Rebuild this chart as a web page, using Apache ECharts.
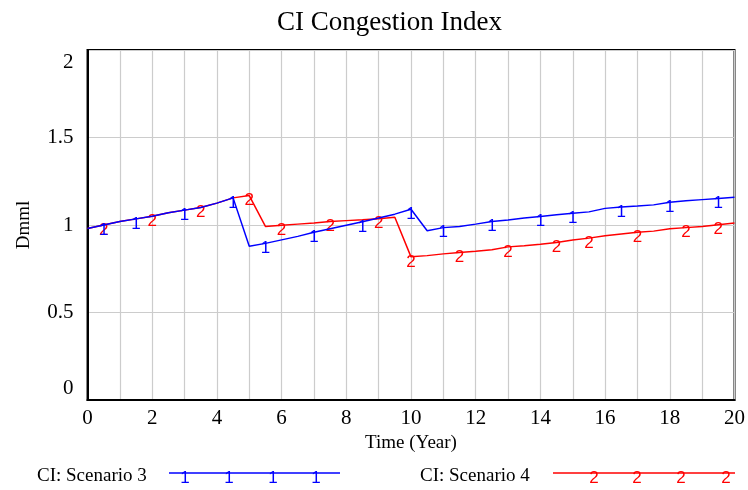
<!DOCTYPE html>
<html>
<head>
<meta charset="utf-8">
<script src="https://cdn.jsdelivr.net/npm/echarts@6/dist/echarts.min.js"></script>
<style>
  html, body { margin: 0; padding: 0; background: #fff; }
  #chart { width: 748px; height: 490px; }
</style>
</head>
<body>
<div id="chart"></div>
<script>
  // time axis, half-year steps
  var years = [0, 0.5, 1, 1.5, 2, 2.5, 3, 3.5, 4, 4.5, 5, 5.5, 6, 6.5, 7, 7.5, 8, 8.5, 9, 9.5, 10,
    10.5, 11, 11.5, 12, 12.5, 13, 13.5, 14, 14.5, 15, 15.5, 16, 16.5, 17, 17.5, 18, 18.5, 19, 19.5, 20];

  // CI: Scenario 3
  var scenario3 = [0.98, 1.0, 1.02, 1.035, 1.05, 1.07, 1.085, 1.10, 1.125, 1.155, 0.878, 0.895, 0.915, 0.935, 0.958, 0.978, 0.998, 1.018, 1.04, 1.062, 1.09,
    0.967, 0.985, 0.992, 1.005, 1.02, 1.028, 1.04, 1.048, 1.058, 1.067, 1.075, 1.095, 1.103, 1.108, 1.115, 1.13, 1.138, 1.145, 1.152, 1.159];

  // CI: Scenario 4
  var scenario4 = [0.98, 1.0, 1.02, 1.035, 1.05, 1.07, 1.085, 1.10, 1.125, 1.155, 1.168, 0.992, 0.998, 1.005, 1.012, 1.02, 1.025, 1.03, 1.036, 1.044, 0.818,
    0.825, 0.835, 0.843, 0.85, 0.858, 0.875, 0.882, 0.89, 0.90, 0.914, 0.925, 0.938, 0.948, 0.958, 0.965, 0.978, 0.985, 0.992, 1.002, 1.011];

  // where the run numbers are written on the lines
  var marks3 = [0.5, 1.5, 3, 4.5, 5.5, 7, 8.5, 10, 11, 12.5, 14, 15, 16.5, 18, 19.5];
  var marks4 = [0.5, 2, 3.5, 5, 6, 7.5, 9, 10, 11.5, 13, 14.5, 15.5, 17, 18.5, 19.5];

  var yTicks = [0, 0.5, 1, 1.5, 2];

  var serif = '"Liberation Serif", "DejaVu Serif", serif';
  var sans = '"Liberation Sans", Arial, sans-serif';

  function buildData(values, marks, tag, color) {
    return years.map(function (t, i) {
      if (marks.indexOf(t) < 0) {
        return { value: [t, values[i]], symbol: 'none' };
      }
      return {
        value: [t, values[i]],
        label: {
          show: true,
          position: 'inside',
          offset: [0, 5],
          formatter: tag,
          color: color,
          fontFamily: sans,
          fontSize: 17
        }
      };
    });
  }

  var chart = echarts.init(document.getElementById('chart'));

  var option = {
    animation: false,
    backgroundColor: '#fff',
    title: {
      text: 'CI Congestion Index',
      left: 272,
      top: 4,
      textStyle: { fontFamily: serif, fontSize: 27, fontWeight: 'normal', color: '#000' }
    },
    grid: {
      left: 87.5, right: 11, top: 50, bottom: 90,
      show: true, borderColor: '#000', borderWidth: 2
    },
    xAxis: {
      type: 'value',
      min: 0, max: 20, interval: 1,
      name: 'Time (Year)',
      nameLocation: 'middle',
      nameGap: 31,
      nameTextStyle: { fontFamily: serif, fontSize: 19, color: '#000' },
      axisLine: { show: true, lineStyle: { color: '#000', width: 2 } },
      axisTick: { show: false },
      axisLabel: {
        margin: 8,
        fontFamily: serif, fontSize: 21, color: '#000',
        formatter: function (v) { return v % 2 === 0 ? String(v) : ''; }
      },
      splitLine: { show: true, lineStyle: { color: '#cccccc', width: 1.2 } }
    },
    yAxis: {
      type: 'value',
      min: yTicks[0], max: yTicks[yTicks.length - 1], interval: 0.5,
      name: 'Dmml',
      nameLocation: 'middle',
      nameRotate: 90,
      nameGap: 54,
      nameTextStyle: { fontFamily: serif, fontSize: 19, color: '#000' },
      axisLine: { show: true, lineStyle: { color: '#000', width: 2 } },
      axisTick: { show: false },
      axisLabel: {
        margin: 14,
        fontFamily: serif, fontSize: 21, color: '#000',
        formatter: function (v) {
          if (v === 2) return '{hi|2}';
          if (v === 0) return '{lo|0}';
          return String(v);
        },
        rich: {
          hi: { fontFamily: serif, fontSize: 21, color: '#000', padding: [24, 0, 0, 0] },
          lo: { fontFamily: serif, fontSize: 21, color: '#000', padding: [0, 0, 24, 0] }
        }
      },
      splitLine: { show: true, lineStyle: { color: '#cccccc', width: 1.2 } }
    },
    series: [
      {
        name: 'CI: Scenario 4',
        type: 'line',
        symbol: 'circle',
        symbolSize: 1,
        showSymbol: true,
        showAllSymbol: true,
        itemStyle: { color: 'rgba(0,0,0,0)' },
        lineStyle: { color: '#ff0000', width: 1.5 },
        data: buildData(scenario4, marks4, '2', '#ff0000'),
        z: 2
      },
      {
        name: 'CI: Scenario 3',
        type: 'line',
        symbol: 'circle',
        symbolSize: 1,
        showSymbol: true,
        showAllSymbol: true,
        itemStyle: { color: 'rgba(0,0,0,0)' },
        lineStyle: { color: '#0000ff', width: 1.5 },
        data: buildData(scenario3, marks3, '1', '#0000ff'),
        z: 3
      }
    ],
    // Vensim style legend: name, then a line with its run number on it
    graphic: [
      { type: 'text', left: 37, top: 467, style: { text: 'CI: Scenario 3', font: '19px ' + serif, fill: '#000' } },
      { type: 'line', shape: { x1: 169, y1: 473, x2: 340, y2: 473 }, style: { stroke: '#0000ff', lineWidth: 1.5 } },
      { type: 'text', x: 185, y: 478, style: { text: '1', font: '17px ' + sans, fill: '#0000ff', align: 'center', verticalAlign: 'middle' } },
      { type: 'text', x: 229, y: 478, style: { text: '1', font: '17px ' + sans, fill: '#0000ff', align: 'center', verticalAlign: 'middle' } },
      { type: 'text', x: 273, y: 478, style: { text: '1', font: '17px ' + sans, fill: '#0000ff', align: 'center', verticalAlign: 'middle' } },
      { type: 'text', x: 316, y: 478, style: { text: '1', font: '17px ' + sans, fill: '#0000ff', align: 'center', verticalAlign: 'middle' } },
      { type: 'text', left: 420, top: 467, style: { text: 'CI: Scenario 4', font: '19px ' + serif, fill: '#000' } },
      { type: 'line', shape: { x1: 553, y1: 473, x2: 735, y2: 473 }, style: { stroke: '#ff0000', lineWidth: 1.5 } },
      { type: 'text', x: 594, y: 478, style: { text: '2', font: '17px ' + sans, fill: '#ff0000', align: 'center', verticalAlign: 'middle' } },
      { type: 'text', x: 637, y: 478, style: { text: '2', font: '17px ' + sans, fill: '#ff0000', align: 'center', verticalAlign: 'middle' } },
      { type: 'text', x: 681, y: 478, style: { text: '2', font: '17px ' + sans, fill: '#ff0000', align: 'center', verticalAlign: 'middle' } },
      { type: 'text', x: 726, y: 478, style: { text: '2', font: '17px ' + sans, fill: '#ff0000', align: 'center', verticalAlign: 'middle' } }
    ]
  };

  chart.setOption(option);
</script>
</body>
</html>
